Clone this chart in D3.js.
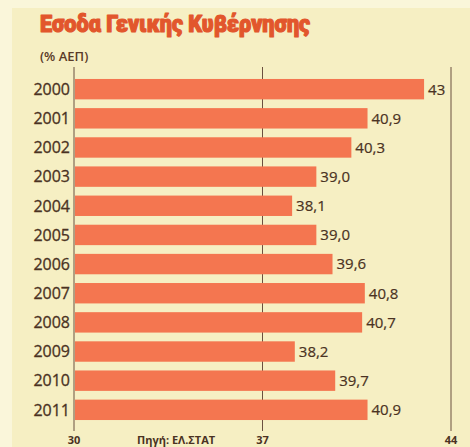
<!DOCTYPE html>
<html><head><meta charset="utf-8">
<script src="https://cdn.jsdelivr.net/npm/d3@7"></script>
<style>html,body{margin:0;padding:0;background:#faf6da;}svg{display:block;}</style>
</head><body>
<script>
const years = ["2000","2001","2002","2003","2004","2005","2006","2007","2008","2009","2010","2011"];
const values = [43, 40.9, 40.3, 39.0, 38.1, 39.0, 39.6, 40.8, 40.7, 38.2, 39.7, 40.9];
const valueLabels = ["43","40,9","40,3","39,0","38,1","39,0","39,6","40,8","40,7","38,2","39,7","40,9"];
const ticks = [30, 37, 44];
const title = "Εσοδα Γενικής Κυβέρνησης";
const subtitle = "(% ΑΕΠ)";
const source = "Πηγή: ΕΛ.ΣΤΑΤ";

const W = 470, H = 447;
const svg = d3.select("body").append("svg").attr("width", W).attr("height", H);
svg.append("rect").attr("width", W).attr("height", H).attr("fill", "#faf6da");
svg.append("rect").attr("x", 12).attr("y", 8).attr("width", W - 12).attr("height", H - 8).attr("fill", "#f6efc3");

const x = d3.scaleLinear().domain([30, 44]).range([74, 451]);
const y = d3.scaleBand().domain(years).range([74.6, 424.4]).paddingInner(0.3).paddingOuter(0.15);

const font = "'Open Sans', 'DejaVu Sans', sans-serif";
const textCol = "#4a3222";

// gridlines
svg.append("g").selectAll("line").data(ticks).join("line")
  .attr("x1", d => x(d)).attr("x2", d => x(d))
  .attr("y1", 67).attr("y2", 431)
  .attr("stroke", "#6b5040").attr("stroke-width", 1);

// bars
svg.append("g").selectAll("rect").data(years).join("rect")
  .attr("x", x(30) + 1).attr("y", d => y(d))
  .attr("width", (d, i) => x(values[i]) - x(30) - 1)
  .attr("height", y.bandwidth())
  .attr("fill", "#f47650");

// year labels
svg.append("g").selectAll("text").data(years).join("text")
  .attr("x", 70).attr("y", d => y(d) + y.bandwidth() / 2)
  .attr("dy", "0.36em").attr("text-anchor", "end")
  .attr("font-family", font).attr("font-size", 16).attr("fill", textCol)
  .attr("stroke", textCol).attr("stroke-width", 0.3)
  .text(d => d);

// value labels
svg.append("g").selectAll("text").data(years).join("text")
  .attr("x", (d, i) => x(values[i]) + 4).attr("y", d => y(d) + y.bandwidth() / 2)
  .attr("dy", "0.36em")
  .attr("font-family", font).attr("font-size", 15).attr("fill", textCol)
  .attr("stroke", textCol).attr("stroke-width", 0.2)
  .text((d, i) => valueLabels[i]);

// bottom tick labels
svg.append("g").selectAll("text").data(ticks).join("text")
  .attr("x", d => x(d)).attr("y", 444).attr("text-anchor", "middle")
  .attr("font-family", font).attr("font-size", 11).attr("font-weight", "bold").attr("fill", textCol)
  .text(d => d);

svg.append("text").attr("x", 137).attr("y", 444)
  .attr("font-family", "'Liberation Sans Narrow', 'Open Sans', sans-serif").attr("font-size", 11)
  .attr("font-weight", "bold").attr("fill", textCol).text(source);

// title
svg.append("text").attr("x", 40).attr("y", 32)
  .attr("font-family", "'Roboto', 'Open Sans', sans-serif").attr("font-size", 23)
  .attr("font-weight", 900).attr("fill", "#e2562c")
  .attr("stroke", "#e2562c").attr("stroke-width", 1.2).attr("stroke-linejoin", "round")
  .attr("textLength", 270).attr("lengthAdjust", "spacingAndGlyphs")
  .text(title);

svg.append("text").attr("x", 40).attr("y", 61)
  .attr("font-family", font).attr("font-size", 13).attr("font-weight", 600).attr("fill", "#5a3a28")
  .text(subtitle);
</script>
</body></html>
